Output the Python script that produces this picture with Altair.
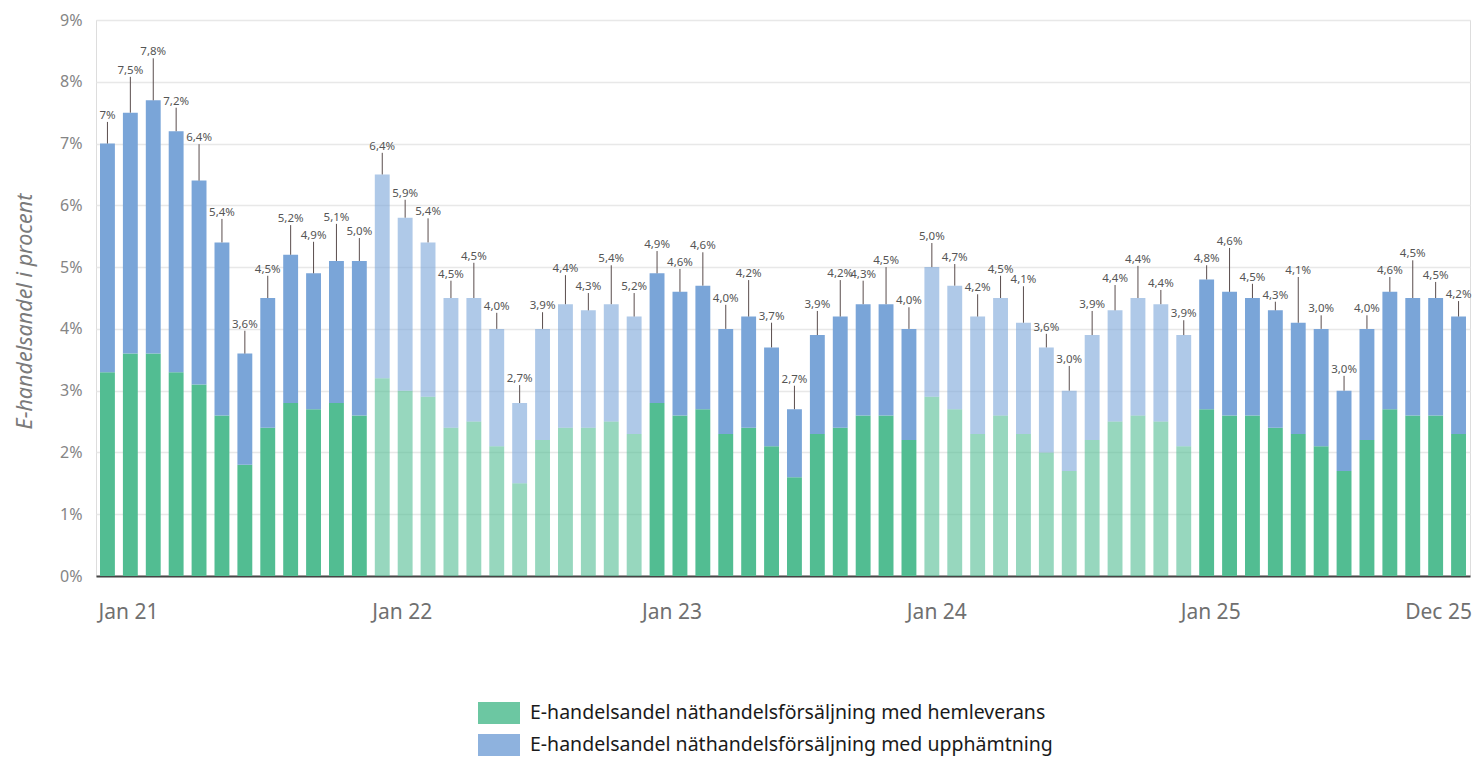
import altair as alt
import pandas as pd

month_names = ["Jan", "Feb", "Mar", "Apr", "Maj", "Jun", "Jul", "Aug", "Sep", "Okt", "Nov", "Dec"]
years = ["21", "22", "23", "24", "25"]
months = [f"{m} {y}" for y in years for m in month_names]
light_years = ["22", "24"]

# hemleverans share (green, bottom segment)
hemleverans = [
    3.3, 3.6, 3.6, 3.3, 3.1, 2.6, 1.8, 2.4, 2.8, 2.7, 2.8, 2.6,
    3.2, 3.0, 2.9, 2.4, 2.5, 2.1, 1.5, 2.2, 2.4, 2.4, 2.5, 2.3,
    2.8, 2.6, 2.7, 2.3, 2.4, 2.1, 1.6, 2.3, 2.4, 2.6, 2.6, 2.2,
    2.9, 2.7, 2.3, 2.6, 2.3, 2.0, 1.7, 2.2, 2.5, 2.6, 2.5, 2.1,
    2.7, 2.6, 2.6, 2.4, 2.3, 2.1, 1.7, 2.2, 2.7, 2.6, 2.6, 2.3,
]
# total share (top of blue segment)
total = [
    7.0, 7.5, 7.7, 7.2, 6.4, 5.4, 3.6, 4.5, 5.2, 4.9, 5.1, 5.1,
    6.5, 5.8, 5.4, 4.5, 4.5, 4.0, 2.8, 4.0, 4.4, 4.3, 4.4, 4.2,
    4.9, 4.6, 4.7, 4.0, 4.2, 3.7, 2.7, 3.9, 4.2, 4.4, 4.4, 4.0,
    5.0, 4.7, 4.2, 4.5, 4.1, 3.7, 3.0, 3.9, 4.3, 4.5, 4.4, 3.9,
    4.8, 4.6, 4.5, 4.3, 4.1, 4.0, 3.0, 4.0, 4.6, 4.5, 4.5, 4.2,
]
labels = [
    "7%", "7,5%", "7,8%", "7,2%", "6,4%", "5,4%", "3,6%", "4,5%", "5,2%", "4,9%", "5,1%", "5,0%",
    "6,4%", "5,9%", "5,4%", "4,5%", "4,5%", "4,0%", "2,7%", "3,9%", "4,4%", "4,3%", "5,4%", "5,2%",
    "4,9%", "4,6%", "4,6%", "4,0%", "4,2%", "3,7%", "2,7%", "3,9%", "4,2%", "4,3%", "4,5%", "4,0%",
    "5,0%", "4,7%", "4,2%", "4,5%", "4,1%", "3,6%", "3,0%", "3,9%", "4,4%", "4,4%", "4,4%", "3,9%",
    "4,8%", "4,6%", "4,5%", "4,3%", "4,1%", "3,0%", "3,0%", "4,0%", "4,6%", "4,5%", "4,5%", "4,2%",
]
# level (in %) where each annotation sits
label_level = [
    7.35, 8.08, 8.38, 7.58, 6.99, 5.78, 3.97, 4.86, 5.68, 5.41, 5.70, 5.47,
    6.85, 6.09, 5.79, 4.78, 5.07, 4.26, 3.09, 4.27, 4.87, 4.58, 5.03, 4.58,
    5.26, 4.97, 5.24, 4.39, 4.79, 4.10, 3.08, 4.29, 4.79, 4.78, 5.00, 4.35,
    5.39, 5.05, 4.56, 4.86, 4.69, 3.92, 3.40, 4.29, 4.71, 5.02, 4.63, 4.14,
    5.03, 5.31, 4.73, 4.44, 4.84, 4.22, 3.24, 4.22, 4.84, 5.11, 4.76, 4.45,
]

series_hem = "E-handelsandel näthandelsförsäljning med hemleverans"
series_upp = "E-handelsandel näthandelsförsäljning med upphämtning"
shown_ticks = ["Jan 21", "Jan 22", "Jan 23", "Jan 24", "Jan 25", "Dec 25"]
tick_shift = [21, 20, 15, 5, 4, -20]

rows = []
for i, m in enumerate(months):
    lt = m.split(" ")[1] in light_years
    rows.append({"month": m, "series": series_hem, "y0": 0.0, "y1": hemleverans[i], "light": lt})
    rows.append({"month": m, "series": series_upp, "y0": hemleverans[i], "y1": total[i], "light": lt})
bars_df = pd.DataFrame(rows)
lab_df = pd.DataFrame({"month": months, "total": total, "label": labels, "level": label_level})

FONT = "Noto Sans"
x_scale = alt.Scale(domain=months, paddingInner=0.35, paddingOuter=0.175)
y_scale = alt.Scale(domain=[0, 9], nice=False)

tick_test = " || ".join([f"datum.value == '{t}'" for t in shown_ticks])
offset_conditions = [{"test": f"datum.value == '{t}'", "value": s} for t, s in zip(shown_ticks, tick_shift)]

bars = alt.Chart(bars_df).mark_bar().encode(
    x=alt.X("month:N", scale=x_scale, sort=months,
            axis=alt.Axis(title=None, ticks=False, labelAngle=0, domainColor="#454545", domainWidth=2,
                          labelFontSize=21, labelColor="#707070", labelFont=FONT, labelPadding=25,
                          labelExpr=f"({tick_test}) ? datum.value : ''",
                          labelOffset={"condition": offset_conditions, "value": 0},
                          grid=False)),
    y=alt.Y("y0:Q", scale=y_scale,
            axis=alt.Axis(title="E-handelsandel i procent", values=list(range(10)),
                          labelExpr="datum.value + '%'", domain=False, ticks=False,
                          labelFontSize=16, labelColor="#858585", labelFont=FONT, labelPadding=14,
                          gridColor="#e8e8e8", gridWidth=1.5,
                          titleFontSize=21.5, titleFontStyle="italic", titleFontWeight="normal",
                          titleColor="#7a7a7a", titleFont=FONT, titleX=-60, titleY=291)),
    y2="y1:Q",
    color=alt.Color("series:N",
                    scale=alt.Scale(domain=[series_hem, series_upp], range=["#52bd92", "#7aa5d8"]),
                    legend=alt.Legend(title=None, orient="none", legendX=382, legendY=672,
                                      direction="vertical",
                                      symbolType="M-1,-0.52H1V0.52H-1Z", symbolSize=1764,
                                      symbolOpacity=0.85, symbolStrokeWidth=0,
                                      labelFontSize=19.5, labelColor="#1a1a1a", labelFont=FONT,
                                      labelOffset=10, rowPadding=0, labelLimit=800)),
    opacity=alt.condition("datum.light", alt.value(0.6), alt.value(1.0)),
)

rules = alt.Chart(lab_df).mark_rule(color="#5a4d4d", strokeWidth=1).encode(
    x=alt.X("month:N", scale=x_scale, sort=months),
    y=alt.Y("total:Q", scale=y_scale),
    y2="level:Q",
)

texts = alt.Chart(lab_df).mark_text(baseline="bottom", dy=-1, fontSize=11.5, color="#555555", font=FONT).encode(
    x=alt.X("month:N", scale=x_scale, sort=months),
    y=alt.Y("level:Q", scale=y_scale),
    text="label:N",
)

chart = alt.layer(bars, rules, texts).properties(
    width=1374, height=556,
    autosize=alt.AutoSizeParams(type="none"),
    padding={"left": 88, "top": 12, "right": 2, "bottom": 181},
).configure_view(stroke=None).configure(background="white")

chart.save("out.html", embed_options={"renderer": "svg", "actions": False})
